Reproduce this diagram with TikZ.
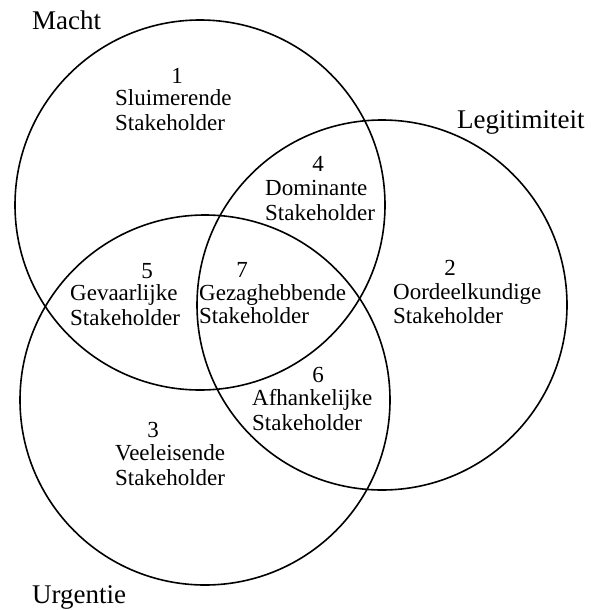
\documentclass[tikz,border=0pt]{standalone}
\usepackage{fontspec}
\setmainfont{Liberation Serif}
\begin{document}
\begin{tikzpicture}[x=1pt,y=-1pt,
  circ/.style={draw=black,line width=1.6pt},
  num/.style={anchor=base,inner sep=0pt,font=\fontsize{23}{26}\selectfont},
  txt/.style={anchor=base west,inner sep=0pt,font=\fontsize{23}{26}\selectfont},
  ttl/.style={anchor=base west,inner sep=0pt,font=\fontsize{27}{30}\selectfont}]
\useasboundingbox (0,0) rectangle (590,610);
\draw[circ] (200,205) circle[radius=185];
\draw[circ] (382,305) circle[radius=185];
\draw[circ] (205,400) circle[radius=185];
% titles
\node[ttl] (macht) at (32,30) {Macht};
\node[ttl] (legit) at (457,128) {Legitimiteit};
\node[ttl] (urg) at (32,603) {Urgentie};
% 1
\node[num] (n1) at (177,83) {1};
\node[txt] (s1a) at (115,105) {Sluimerende};
\node[txt] (s1b) at (115,130) {Stakeholder};
% 4
\node[num] (n4) at (318,171) {4};
\node[txt] (s4a) at (265,195) {Dominante};
\node[txt] (s4b) at (265,220) {Stakeholder};
% 2
\node[num] (n2) at (450,275) {2};
\node[txt] (s2a) at (393,299) {Oordeelkundige};
\node[txt] (s2b) at (393,323) {Stakeholder};
% 5
\node[num] (n5) at (147,278) {5};
\node[txt] (s5a) at (70,300) {Gevaarlijke};
\node[txt] (s5b) at (70,325) {Stakeholder};
% 7
\node[num] (n7) at (242,277) {7};
\node[txt] (s7a) at (199,300) {Gezaghebbende};
\node[txt] (s7b) at (199,323) {Stakeholder};
% 6
\node[num] (n6) at (318,382) {6};
\node[txt] (s6a) at (252,405) {Afhankelijke};
\node[txt] (s6b) at (252,430) {Stakeholder};
% 3
\node[num] (n3) at (153,437) {3};
\node[txt] (s3a) at (115,460) {Veeleisende};
\node[txt] (s3b) at (115,485) {Stakeholder};
\end{tikzpicture}
\end{document}
